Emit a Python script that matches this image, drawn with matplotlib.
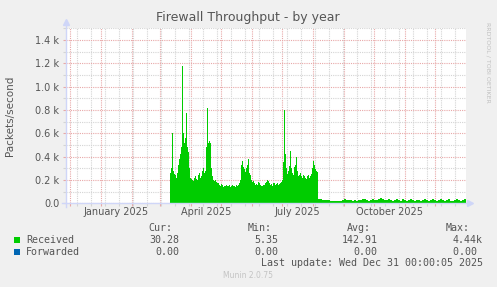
import numpy as np
import pandas as pd
import matplotlib
matplotlib.use('Agg')
import matplotlib.pyplot as plt
import matplotlib.dates as mdates
from matplotlib.patches import Rectangle
from matplotlib.lines import Line2D
from matplotlib.ticker import MultipleLocator, FixedLocator, FixedFormatter

# received packets/second, daily from 10 Mar 2025 (busy months)
busy_start = '2025-03-10 12:00'
received_busy = [260, 300, 600, 280, 250, 240, 220, 260, 330, 380,
                 420, 480, 1180, 600, 520, 560, 770, 480, 440, 300,
                 220, 210, 200, 190, 220, 230, 210, 200, 240, 260,
                 220, 230, 280, 300, 260, 280, 480, 820, 520, 530,
                 520, 300, 230, 200, 190, 200, 180, 170, 175, 160,
                 150, 165, 160, 140, 150, 145, 160, 150, 145, 155,
                 140, 150, 160, 145, 150, 140, 155, 150, 160, 170,
                 200, 330, 360, 310, 290, 270, 300, 330, 380, 260,
                 240, 200, 180, 190, 170, 160, 165, 155, 180, 170,
                 160, 150, 145, 155, 160, 170, 180, 200, 190, 170,
                 160, 165, 150, 175, 170, 160, 165, 170, 160, 165,
                 170, 180, 200, 350, 800, 420, 300, 250, 280, 320,
                 450, 300, 260, 240, 310, 330, 400, 280, 230, 240,
                 260, 230, 220, 240, 230, 220, 210, 230, 240, 220,
                 230, 250, 300, 360, 330, 290, 280, 270]
# then one value per 2 days from 5 Aug 2025 (quiet months)
quiet_start = '2025-08-05 12:00'
received_quiet = [40, 36, 32, 30, 28, 26, 22, 20, 18, 20,
                  18, 20, 28, 34, 32, 30, 26, 22, 28, 24,
                  30, 26, 34, 40, 30, 22, 30, 36, 26, 30,
                  40, 46, 36, 26, 30, 38, 28, 22, 30, 40,
                  30, 24, 34, 28, 22, 30, 38, 26, 20, 32,
                  30, 22, 28, 36, 26, 20, 30, 34, 26, 22,
                  30, 36, 26, 22, 28, 34, 24, 20, 28, 36,
                  26, 22, 30, 38, 30]

y_ticks = [0, 200, 400, 600, 800, 1000, 1200, 1400]
y_labels = ['0.0', '0.2 k', '0.4 k', '0.6 k', '0.8 k', '1.0 k', '1.2 k', '1.4 k']
month_labels = ['January 2025', 'April 2025', 'July 2025', 'October 2025']
month_label_dates = ['2025-01-16', '2025-04-16', '2025-07-16', '2025-10-16']

series_names = ['Received', 'Forwarded']
series_colors = ['#00cc00', '#0066b3']
cur_vals = ['30.28', '0.00']
min_vals = ['5.35', '0.00']
avg_vals = ['142.91', '0.00']
max_vals = ['4.44k', '0.00 ']

W, H = 497, 287
fig = plt.figure(figsize=(W / 100, H / 100), dpi=100, facecolor='#f0f0f0')

def px(x, y):
    return x / W, 1 - y / H

ax = fig.add_axes([66 / W, 1 - 203.3 / H, 400 / W, 175 / H])
ax.set_facecolor('white')

edges = mdates.date2num(pd.date_range(busy_start, periods=len(received_busy) + 1, freq='1D'))
ax.stairs(received_busy, edges, fill=True, color='#00cc00', lw=0, zorder=2)
edges = mdates.date2num(pd.date_range(quiet_start, periods=len(received_quiet) + 1, freq='2D'))
ax.stairs(received_quiet, edges, fill=True, color='#00cc00', lw=0, zorder=2)

ax.set_xlim(mdates.date2num(pd.Timestamp('2024-11-26 16:00')),
            mdates.date2num(pd.Timestamp('2025-12-31 16:00')))
ax.set_ylim(0, 1500)

# grid like rrdtool
ax.xaxis.set_major_locator(mdates.MonthLocator())
ax.xaxis.set_minor_locator(FixedLocator(mdates.date2num(pd.date_range('2024-12-08', '2025-12-31', freq='14D'))))
ax.xaxis.set_major_formatter(plt.NullFormatter())
ax.yaxis.set_major_locator(FixedLocator(y_ticks))
ax.yaxis.set_major_formatter(FixedFormatter(y_labels))
ax.yaxis.set_minor_locator(MultipleLocator(100))
ax.set_axisbelow(True)
ax.grid(which='major', color='#e8a8a8', linestyle=(0, (1, 1)), linewidth=0.8)
ax.grid(which='minor', color='#d4d4d4', linestyle=(0, (1, 1)), linewidth=0.8)
ax.tick_params(which='major', colors='#e8a8a8', length=2.2, width=0.8, labelcolor='#555555', labelsize=7)
ax.tick_params(which='minor', colors='#d4d4d4', length=2.2, width=0.8)
ax.tick_params(axis='y', pad=2.7)
for s in ax.spines.values():
    s.set_visible(False)

# axes with arrows
axis_col = '#cfd6f8'
ax.add_line(Line2D([0, 0], [-0.02, 1.025], transform=ax.transAxes, color=axis_col, lw=1, clip_on=False))
ax.add_line(Line2D([-0.01, 1.0], [0, 0], transform=ax.transAxes, color=axis_col, lw=1, clip_on=False))
ax.plot([0], [1.035], transform=ax.transAxes, marker='^', ms=4, color=axis_col, clip_on=False)
ax.plot([1.01], [0], transform=ax.transAxes, marker='>', ms=4, color=axis_col, clip_on=False)

tr = matplotlib.transforms.blended_transform_factory(ax.transData, ax.transAxes)
for lab, d in zip(month_labels, month_label_dates):
    ax.text(mdates.date2num(pd.Timestamp(d)), -0.05, lab, transform=tr, ha='center', va='center',
            fontsize=7, color='#555555')

fig.text(*px(248, 18), 'Firewall Throughput - by year', ha='center', va='center', fontsize=9, color='#555555')
fig.text(*px(10.5, 115.8), 'Packets/second', ha='center', va='center', rotation=90, fontsize=7.5, color='#555555')
fig.text(*px(488, 22), 'RRDTOOL / TOBI OETIKER', ha='center', va='top', rotation=270, fontsize=4.5, color='#c0c0c0')

mono = dict(family='DejaVu Sans Mono', fontsize=7.2, color='#555555', va='center')
for lab, xr in zip(['Cur:', 'Min:', 'Avg:', 'Max:'], [172, 271.7, 371, 470]):
    fig.text(*px(xr, 227.7), lab, ha='right', **mono)
for i, name in enumerate(series_names):
    y = 239.7 + 12 * i
    fig.patches.append(Rectangle(px(14, y + 3), 6 / W, 6 / H, transform=fig.transFigure,
                                 color=series_colors[i], lw=0))
    fig.text(*px(26.3, y), name, ha='left', **mono)
    for v, xr in zip([cur_vals[i], min_vals[i], avg_vals[i], max_vals[i]], [179, 278.3, 377.7, 482.7]):
        fig.text(*px(xr, y), v, ha='right', **mono)
fig.text(*px(482.7, 263.3), 'Last update: Wed Dec 31 00:00:05 2025', ha='right', **mono)
fig.text(*px(247.7, 276), 'Munin 2.0.75', ha='center', va='center', fontsize=5.5, color='#c4c4c4')

fig.savefig('out.png', dpi=100, facecolor=fig.get_facecolor())
